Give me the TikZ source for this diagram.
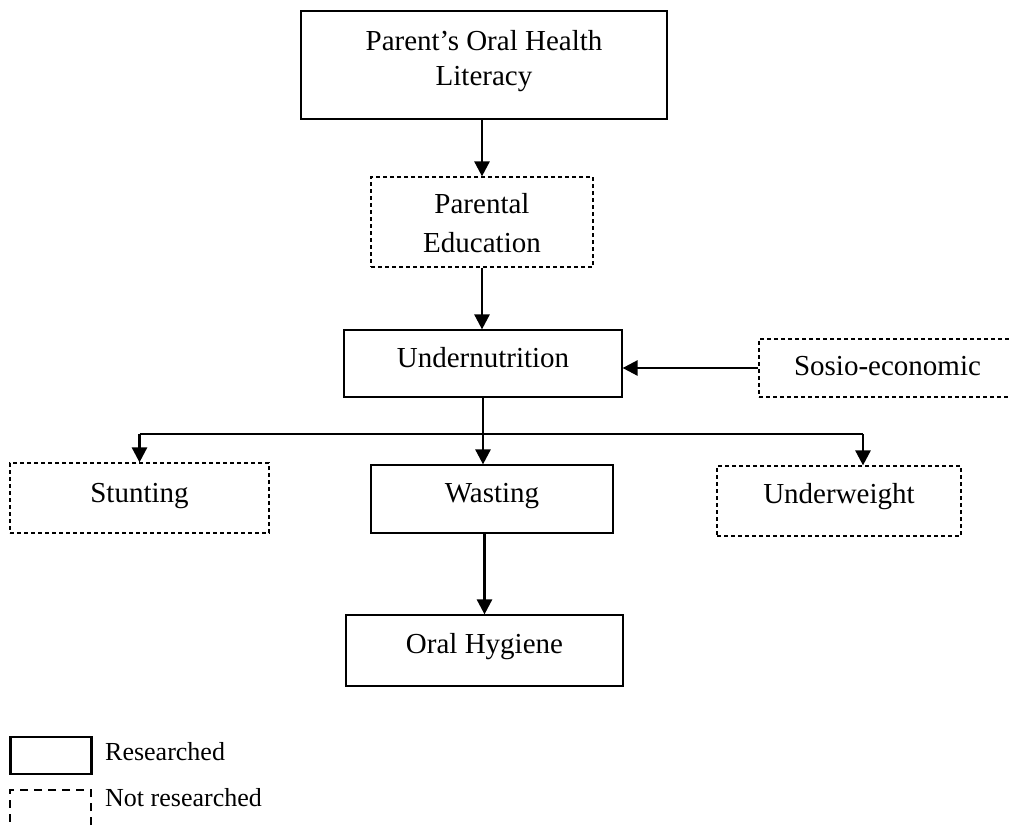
\documentclass[tikz,border=0pt]{standalone}
\usepackage{fontspec}
\setmainfont{Liberation Serif}
\usetikzlibrary{arrows.meta}
\begin{document}
\begin{tikzpicture}[
    x=1pt, y=-1pt,
    box/.style={draw, line width=1.2pt, inner sep=0pt,
      font=\fontsize{29}{35}\selectfont, text height=7pt, text depth=0pt},
    solidbox/.style={box},
    dashbox/.style={box, dash pattern=on 4pt off 3pt},
    flow/.style={line width=2.6pt, -{Triangle[length=15pt,width=15pt]}},
    branch/.style={line width=1.3pt},
    legbox/.style={draw, line width=2.6pt, minimum width=81pt,
      minimum height=37pt, inner sep=0pt},
    leglbl/.style={font=\fontsize{26}{31}\selectfont, anchor=base west, inner sep=0pt}
  ]
  \useasboundingbox (0,0) rectangle (1009,825);
  % boxes
  \node[solidbox, minimum width=366pt, minimum height=108pt, align=center,
    text height=40pt] (ohl) at (484,65) {Parent’s Oral Health\\Literacy};
  \node[dashbox, minimum width=222pt, minimum height=90pt, align=center,
    text height=60pt, font=\fontsize{29}{39}\selectfont] (paredu) at (482,222) {Parental\\Education};
  \node[solidbox, minimum width=278pt, minimum height=67pt] (undernut) at (483,363.5) {Undernutrition};
  \node[dashbox, minimum width=257pt, minimum height=58pt, text height=14pt] (sosio) at (887.5,368) {Sosio-economic};
  \node[dashbox, minimum width=259pt, minimum height=70pt, text height=8pt] (stunting) at (139.5,498) {Stunting};
  \node[solidbox, minimum width=242pt, minimum height=68pt, text height=6pt] (wasting) at (492,499) {Wasting};
  \node[dashbox, minimum width=244pt, minimum height=70pt, text height=4pt] (underwt) at (839,501) {Underweight};
  \node[solidbox, minimum width=277pt, minimum height=71pt, text height=5pt] (oralhyg) at (484.5,650.5) {Oral Hygiene};
  % arrows
  \draw[flow] (paredu.north |- ohl.south) -- (paredu.north);
  \draw[flow] (paredu.south) -- (paredu.south |- undernut.north);
  \draw[flow] (sosio.west) -- (sosio.west -| undernut.east);
  \coordinate (split) at (483,434);
  \coordinate (uwdrop) at (863,434);
  \draw[branch] (stunting.north |- split) -- (uwdrop);
  \draw[flow] (undernut.south) -- (undernut.south |- wasting.north);
  \draw[flow] (stunting.north |- split) -- (stunting.north);
  \draw[flow] (uwdrop) -- (uwdrop |- underwt.north);
  \draw[flow] (oralhyg.north |- wasting.south) -- (oralhyg.north);
  % legend
  \node[legbox] (legsolid) at (51,755.5) {};
  \node[legbox, dash pattern=on 8pt off 6pt, minimum height=38pt] (legdash) at (50.5,809) {};
  \node[leglbl] (legres) at (105,760) {Researched};
  \node[leglbl] (legnot) at (105,806) {Not researched};
\end{tikzpicture}
\end{document}
